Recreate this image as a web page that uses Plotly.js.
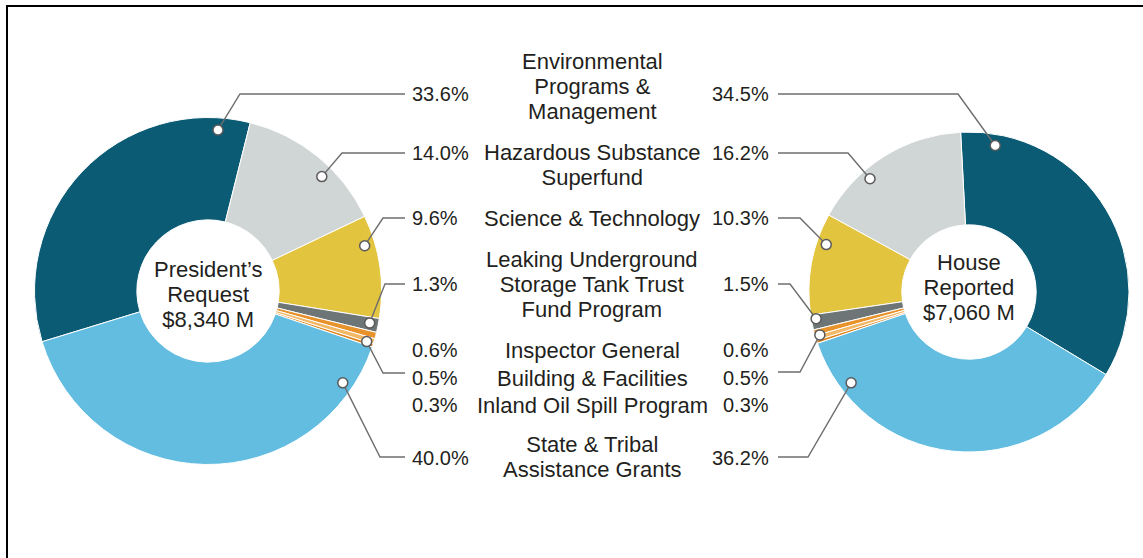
<!DOCTYPE html>
<html><head><meta charset="utf-8">
<script src="https://cdn.plot.ly/plotly-3.0.1.min.js"></script>
<style>html,body{margin:0;padding:0;background:#fff}#chart{width:1143px;height:558px}</style>
</head><body><div id="chart"></div>
<script>
// ---- data ----
const categories = ["Environmental Programs & Management","Hazardous Substance Superfund","Science & Technology","Leaking Underground Storage Tank Trust Fund Program","Inspector General","Building & Facilities","Inland Oil Spill Program","State & Tribal Assistance Grants"];
const categoryLabels = ["Environmental<br>Programs &<br>Management","Hazardous Substance<br>Superfund","Science & Technology","Leaking Underground<br>Storage Tank Trust<br>Fund Program","Inspector General","Building & Facilities","Inland Oil Spill Program","State & Tribal<br>Assistance Grants"];
const presidentShares = [33.6, 14.0, 9.6, 1.3, 0.6, 0.5, 0.3, 40.0];
const houseShares = [34.5, 16.2, 10.3, 1.5, 0.6, 0.5, 0.3, 36.2];
const chartTitles = ["President’s<br>Request", "House<br>Reported"];
const chartTotals = ["$8,340 M", "$7,060 M"];

// ---- style / layout ----
const W = 1143, H = 558;
const sliceColors = ["#0b5b75","#d0d5d6","#e2c43f","#6e7576","#e8922b","#f2b866","#e08520","#62bde1"];
const textColor = "#231f20";
const lineColor = "#6e6e6e";
const FONT = "Liberation Sans, Arial, sans-serif";
const PCT_FS = 20, CAT_FS = 22, HOLE_FS = 22;
const LINE_GAP = 24.8;

const pies = [
  {values: presidentShares, cx: 208, cy: 291, r: 173.5, hole: 0.41, rotation: -107, dir: 1,
   textY: 294.5, pctX: 411, pctAnchor: "left", lineEndX: 405,
   leaders: [
     {i:0, t:0.913, rf:0.93, ex:240, ey:94},
     {i:1, t:0.61, rf:0.93, ex:342, ey:153},
     {i:2, t:0.27, rf:0.94, ex:383, ey:218},
     {i:3, t:0.45, rf:0.95, ex:385, ey:284},
     {i:5, t:0.95, rf:0.96, ex:383, ey:373},
     {i:7, t:0.107, rf:0.94, ex:380, ey:457}
   ]},
  {values: houseShares, cx: 969, cy: 292, r: 160, hole: 0.42, rotation: -3, dir: -1,
   textY: 287, pctX: 770, pctAnchor: "right", lineEndX: 778,
   leaders: [
     {i:0, t:0.894, rf:0.93, ex:958, ey:94},
     {i:1, t:0.655, rf:0.94, ex:848, ey:153},
     {i:2, t:0.28, rf:0.94, ex:800, ey:218},
     {i:3, t:0.3, rf:0.97, ex:790, ey:284},
     {i:5, t:0.1, rf:0.97, ex:800, ey:372},
     {i:7, t:0.145, rf:0.93, ex:808, ey:457}
   ]}
];
const pctRowY = [94, 153, 218, 284, 350, 378, 405, 458];
const catRowY = [87, 165, 218, 284, 350, 378, 405, 457];
const catX = 592;

const px = x => x / W;
const py = y => 1 - y / H;

const traces = [];
const shapes = [];
const annotations = [];

// multi-line block: line spacing set by the annotation font (1.3em), glyphs sized by span
function addBlock(text, x, yc, size) {
  const lines = text.split("<br>").map(ln => `<span style="font-size:${size}px">${ln}</span>`);
  annotations.push({xref:"paper", yref:"paper", x: px(x), y: py(yc), xanchor:"center", yanchor:"middle",
    showarrow:false, borderpad:0, align:"center", text: lines.join("<br>"),
    font:{family: FONT, size: LINE_GAP / 1.3, color: textColor}});
}

// frame
shapes.push({type:"path", xref:"paper", yref:"paper", path:`M ${px(7)},${py(H+5)} L ${px(7)},${py(6)} L ${px(W+5)},${py(6)}`, line:{color:"#000", width:2}, layer:"above"});

pies.forEach((p, k) => {
  traces.push({
    type: "pie", labels: categories, values: p.values, sort: false,
    direction: p.dir > 0 ? "clockwise" : "counterclockwise", rotation: p.rotation,
    hole: p.hole, textinfo: "none", textposition: "none", hoverinfo: "skip",
    marker: {colors: sliceColors, line: {color: "#ffffff", width: 1}},
    domain: {x: [px(p.cx - p.r), px(p.cx + p.r)], y: [py(p.cy + p.r), py(p.cy - p.r)]},
    showlegend: false
  });
  // slice angles from the data (same convention as plotly's pie)
  const total = p.values.reduce((a, b) => a + b, 0);
  const spans = p.values.map(v => v / total * 360);
  const base = p.dir > 0 ? p.rotation : p.rotation + spans[0];
  let cum = 0;
  const starts = [];
  spans.forEach(s => { starts.push(base + p.dir * cum); cum += s; });
  p.leaders.forEach(L => {
    const ang = (starts[L.i] + p.dir * L.t * spans[L.i]) * Math.PI / 180;
    const d = L.rf * p.r;
    const dx = p.cx + d * Math.sin(ang), dy = p.cy - d * Math.cos(ang);
    shapes.push({type:"path", xref:"paper", yref:"paper", layer:"above",
      path:`M ${px(dx)},${py(dy)} L ${px(L.ex)},${py(L.ey)} L ${px(p.lineEndX)},${py(L.ey)}`,
      line:{color: lineColor, width: 1.4}});
    shapes.push({type:"circle", xref:"paper", yref:"paper", layer:"above",
      xsizemode:"pixel", ysizemode:"pixel", xanchor: px(dx), yanchor: py(dy),
      x0:-5, x1:5, y0:-5, y1:5, fillcolor:"#ffffff", line:{color:"#5a5a5a", width:1.5}});
  });
  // percentage labels
  p.values.forEach((v, i) => {
    annotations.push({xref:"paper", yref:"paper", x: px(p.pctX), y: py(pctRowY[i]),
      xanchor: p.pctAnchor, yanchor:"middle", showarrow:false, borderpad:0,
      text: v.toFixed(1) + "%", font:{family: FONT, size: PCT_FS, color: textColor}});
  });
  // centre text
  addBlock(chartTitles[k] + "<br>" + chartTotals[k], p.cx, p.textY, HOLE_FS);
});

categoryLabels.forEach((c, i) => addBlock(c, catX, catRowY[i], CAT_FS));

Plotly.newPlot("chart", traces, {
  width: W, height: H, margin: {l:0, r:0, t:0, b:0},
  paper_bgcolor: "#ffffff", showlegend: false,
  shapes: shapes, annotations: annotations
}, {staticPlot: true});
</script></body></html>
